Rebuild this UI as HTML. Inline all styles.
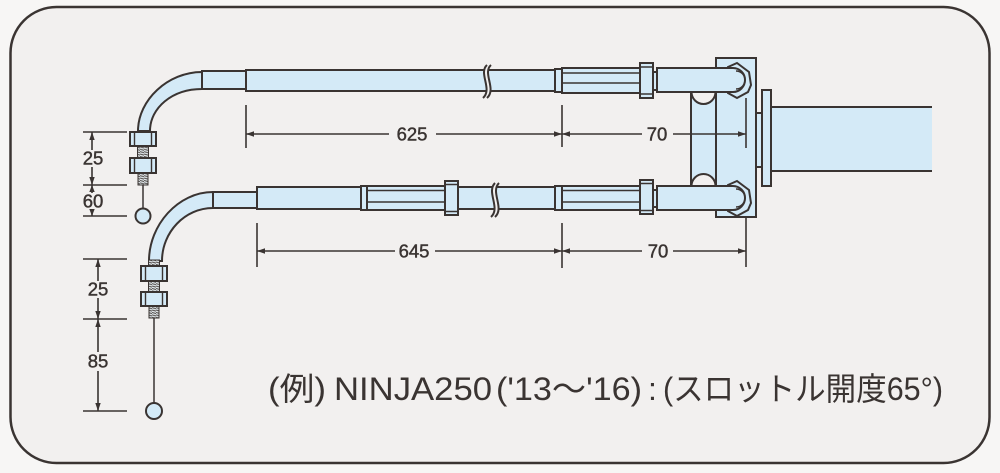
<!DOCTYPE html>
<html>
<head>
<meta charset="utf-8">
<style>
html,body{margin:0;padding:0;background:#f7f6f5;}
svg{display:block;}
</style>
</head>
<body>
<svg width="1000" height="473" viewBox="0 0 1000 473" xmlns="http://www.w3.org/2000/svg">
<defs>
<pattern id="th" width="4" height="2.4" patternUnits="userSpaceOnUse">
<rect width="4" height="2.4" fill="#dfe6e9"/>
<line x1="0" y1="0.5" x2="4" y2="1.5" stroke="#4f4a48" stroke-width="1"/>
</pattern>
</defs>
<rect width="1000" height="473" fill="#f7f6f5"/>
<rect x="10.5" y="7" width="979" height="456" rx="46" fill="#f2f0ef" stroke="#3a3432" stroke-width="2.5"/>

<g fill="#d4eaf7" stroke="#3a3432" stroke-width="2">
<!-- bracket plate & pulley -->
<rect x="716" y="58" width="40" height="159"/>
<rect x="691" y="92" width="25" height="94"/>
<path d="M691.5,92 A12,12 0 0 0 715.5,92 Z" fill="#f2f0ef"/>
<path d="M691.5,186 A12,12 0 0 1 715.5,186 Z" fill="#f2f0ef"/>
<!-- handlebar -->
<rect x="756" y="113" width="6" height="54"/>
<rect x="771" y="107" width="161" height="64" stroke="none"/>
<line x1="771" y1="107" x2="932" y2="107"/>
<line x1="771" y1="171" x2="932" y2="171"/>
<rect x="762" y="90" width="9" height="96"/>

<!-- TOP CABLE -->
<path d="M202,72 C168,72 138,100 138,131 L150,131 C150,108 172,89 202,89 Z"/>
<rect x="202" y="71" width="44" height="18"/>
<rect x="246" y="70" width="309" height="21"/>
<rect x="555" y="69" width="7" height="23"/>
<rect x="562" y="68" width="78" height="25"/>
<line x1="562" y1="73" x2="640" y2="73" stroke-width="1.6"/>
<line x1="562" y1="83" x2="640" y2="83" stroke-width="1.6"/>
<rect x="640" y="63" width="13" height="35"/>
<line x1="640" y1="67" x2="653" y2="67" stroke-width="1.5"/>
<line x1="640" y1="94" x2="653" y2="94" stroke-width="1.5"/>
<rect x="653" y="72" width="4" height="18"/>
<polygon points="728,67 737,63 749,72 751,85 748,92 737,98 728,93"/>
<path d="M657,68 H733 A12,12 0 0 1 733,92 H657 Z"/>
<path d="M736,71 A9,9 0 0 1 736,89" fill="none" stroke-width="1.5"/>

<!-- nuts top-left -->
<rect x="137.5" y="146" width="11" height="12" fill="url(#th)" stroke-width="1"/>
<rect x="138" y="173" width="10" height="12" fill="url(#th)" stroke-width="1"/>
<rect x="130" y="132" width="26" height="14"/>
<line x1="134.5" y1="132" x2="134.5" y2="146" stroke-width="1.4"/>
<line x1="151.5" y1="132" x2="151.5" y2="146" stroke-width="1.4"/>
<rect x="130" y="158" width="26" height="15"/>
<line x1="134.5" y1="158" x2="134.5" y2="173" stroke-width="1.4"/>
<line x1="151.5" y1="158" x2="151.5" y2="173" stroke-width="1.4"/>
<line x1="143" y1="185" x2="143" y2="208.5" stroke-width="1.5"/>
<circle cx="143" cy="216" r="7.5"/>

<!-- BOTTOM CABLE -->
<path d="M213,192 C178,192 149,225 149,261 L162,261 C162,232 185,208 213,208 Z"/>
<rect x="213" y="192" width="44" height="16"/>
<rect x="257" y="187" width="104" height="22"/>
<rect x="361" y="186" width="6" height="24"/>
<rect x="367" y="186" width="78" height="24"/>
<line x1="367" y1="190.5" x2="445" y2="190.5" stroke-width="1.6"/>
<line x1="367" y1="202" x2="445" y2="202" stroke-width="1.6"/>
<rect x="445" y="181" width="13" height="34"/>
<line x1="445" y1="184.5" x2="458" y2="184.5" stroke-width="1.5"/>
<line x1="445" y1="211.5" x2="458" y2="211.5" stroke-width="1.5"/>
<rect x="458" y="187" width="97" height="22"/>
<rect x="555" y="186" width="7" height="24"/>
<rect x="562" y="186" width="78" height="24"/>
<line x1="562" y1="190.5" x2="640" y2="190.5" stroke-width="1.6"/>
<line x1="562" y1="202" x2="640" y2="202" stroke-width="1.6"/>
<rect x="640" y="180" width="13" height="34"/>
<line x1="640" y1="183.5" x2="653" y2="183.5" stroke-width="1.5"/>
<line x1="640" y1="210.5" x2="653" y2="210.5" stroke-width="1.5"/>
<rect x="653" y="190" width="4" height="17"/>
<polygon points="728,185 737,181 749,190 751,203 748,210 737,216 728,211"/>
<path d="M657,186 H733 A12,12 0 0 1 733,210 H657 Z"/>
<path d="M736,189 A9,9 0 0 1 736,207" fill="none" stroke-width="1.5"/>

<!-- nuts bottom-left -->
<rect x="148.5" y="260" width="11" height="6" fill="url(#th)" stroke-width="1"/>
<rect x="148.5" y="281" width="11" height="11" fill="url(#th)" stroke-width="1"/>
<rect x="149" y="306" width="10" height="12" fill="url(#th)" stroke-width="1"/>
<rect x="141" y="266" width="26" height="15"/>
<line x1="145.5" y1="266" x2="145.5" y2="281" stroke-width="1.4"/>
<line x1="162.5" y1="266" x2="162.5" y2="281" stroke-width="1.4"/>
<rect x="141" y="292" width="26" height="14"/>
<line x1="145.5" y1="292" x2="145.5" y2="306" stroke-width="1.4"/>
<line x1="162.5" y1="292" x2="162.5" y2="306" stroke-width="1.4"/>
<line x1="154" y1="318" x2="154" y2="403" stroke-width="1.5"/>
<circle cx="154" cy="411" r="8"/>
</g>

<!-- break marks -->
<g stroke="#3a3432" stroke-width="2" fill="#f2f0ef">
<path d="M487,65 C478,73 493,89 483,98 L487,98 C497,89 482,73 491,65 Z" stroke="none"/>
<path d="M487,65 C478,73 493,89 483,98" fill="none"/>
<path d="M491,65 C482,73 497,89 487,98" fill="none"/>
<path d="M495,183 C486,192 501,208 491,217 L495,217 C505,208 490,192 499,183 Z" stroke="none"/>
<path d="M495,183 C486,192 501,208 491,217" fill="none"/>
<path d="M499,183 C490,192 505,208 495,217" fill="none"/>
</g>

<!-- dimensions -->
<g stroke="#3a3432" stroke-width="1.6" fill="none">
<line x1="246" y1="105" x2="246" y2="148"/>
<line x1="562" y1="105" x2="562" y2="147"/>
<line x1="746" y1="98" x2="746" y2="148"/>
<line x1="246" y1="134" x2="389" y2="134"/>
<line x1="436" y1="134" x2="562" y2="134"/>
<line x1="562" y1="134" x2="642" y2="134"/>
<line x1="673" y1="134" x2="746" y2="134"/>
<line x1="257" y1="223" x2="257" y2="267"/>
<line x1="562" y1="223" x2="562" y2="268"/>
<line x1="746" y1="217" x2="746" y2="267"/>
<line x1="257" y1="251" x2="395" y2="251"/>
<line x1="435" y1="251" x2="562" y2="251"/>
<line x1="562" y1="251" x2="642" y2="251"/>
<line x1="673" y1="251" x2="746" y2="251"/>
<line x1="83" y1="132" x2="127" y2="132"/>
<line x1="83" y1="185" x2="127" y2="185"/>
<line x1="83" y1="216" x2="127" y2="216"/>
<line x1="92" y1="132" x2="92" y2="150"/>
<line x1="92" y1="167" x2="92" y2="185"/>
<line x1="92" y1="185" x2="92" y2="193"/>
<line x1="92" y1="210" x2="92" y2="216"/>
<line x1="83" y1="259" x2="127" y2="259"/>
<line x1="83" y1="319" x2="127" y2="319"/>
<line x1="83" y1="411" x2="127" y2="411"/>
<line x1="98" y1="259" x2="98" y2="281"/>
<line x1="98" y1="298" x2="98" y2="319"/>
<line x1="98" y1="319" x2="98" y2="352"/>
<line x1="98" y1="371" x2="98" y2="411"/>
</g>
<g fill="#3a3432">
<polygon points="246,134 254,131.3 254,136.7"/>
<polygon points="562,134 554,131.3 554,136.7"/>
<polygon points="562,134 570,131.3 570,136.7"/>
<polygon points="746,134 738,131.3 738,136.7"/>
<polygon points="257,251 265,248.3 265,253.7"/>
<polygon points="562,251 554,248.3 554,253.7"/>
<polygon points="562,251 570,248.3 570,253.7"/>
<polygon points="746,251 738,248.3 738,253.7"/>
<polygon points="92,132 89.3,140 94.7,140"/>
<polygon points="92,185 89.3,177 94.7,177"/>
<polygon points="92,185 89.3,192 94.7,192"/>
<polygon points="92,216 89.3,209 94.7,209"/>
<polygon points="98,259 95.3,267 100.7,267"/>
<polygon points="98,319 95.3,311 100.7,311"/>
<polygon points="98,319 95.3,327 100.7,327"/>
<polygon points="98,411 95.3,403 100.7,403"/>
</g>

<g font-family="'Liberation Sans', sans-serif" font-size="18.5" fill="#3a3432" stroke="#3a3432" stroke-width="0.45" text-anchor="middle">
<text x="412" y="140.5">625</text>
<text x="657" y="140.5">70</text>
<text x="414" y="257.5">645</text>
<text x="658" y="257.5">70</text>
<text x="93" y="164.5">25</text>
<text x="93" y="207.5">60</text>
<text x="98" y="295.5">25</text>
<text x="98" y="367.5">85</text>
</g>

<g font-family="'Liberation Sans', 'Noto Sans CJK JP', sans-serif" font-size="32" fill="#3a3432">
<text x="268" y="400" textLength="58" lengthAdjust="spacingAndGlyphs">(例)</text>
<text x="334" y="400" textLength="158" lengthAdjust="spacingAndGlyphs">NINJA250</text>
<text x="496" y="400" textLength="146" lengthAdjust="spacingAndGlyphs">('13〜'16)</text>
<text x="648" y="400">:</text>
<text x="663" y="400" textLength="280" lengthAdjust="spacingAndGlyphs">(スロットル開度65°)</text>
</g>
</svg>
</body>
</html>
